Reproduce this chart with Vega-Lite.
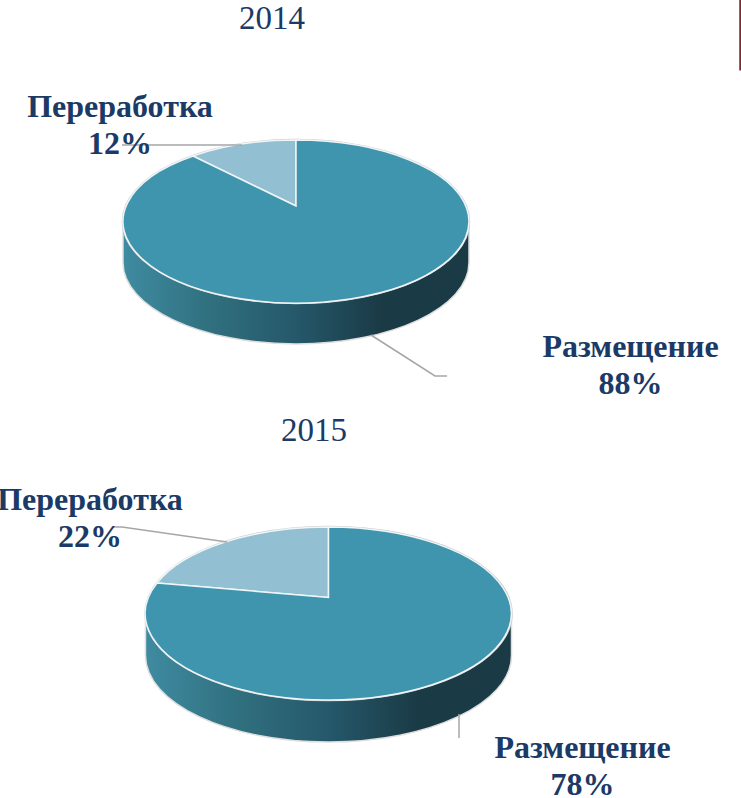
{"$schema":"https://vega.github.io/schema/vega-lite/v6.json","width":741,"height":798,"padding":0,"autosize":{"type":"none"},"background":"white","config":{"view":{"stroke":null}},
"data":{"values":[
{"year":"2014","category":"Переработка","share":12,"slice":"2014 Переработка","label":"Переработка\n12%"},
{"year":"2014","category":"Размещение","share":88,"slice":"2014 Размещение","label":"Размещение\n88%"},
{"year":"2015","category":"Переработка","share":22,"slice":"2015 Переработка","label":"Переработка\n22%"},
{"year":"2015","category":"Размещение","share":78,"slice":"2015 Размещение","label":"Размещение\n78%"}]},
"encoding":{"x":{"field":"year","type":"nominal","axis":null,"scale":{"type":"point","domain":["2014","2015"],"range":[296,328.5],"padding":0}},"y":{"field":"year","type":"nominal","axis":null,"scale":{"type":"point","domain":["2014","2015"],"range":[221.5,613.5],"padding":0}}},
"layer":[
{"transform":[{"filter":"datum.category==='Размещение'"}],"mark":{"type":"point","filled":true,"opacity":1,"size":4,"stroke":"#dedede","strokeWidth":1.5,"fill":{"gradient":"linear","x1":0,"y1":0,"x2":1,"y2":0,"stops":[{"offset":0,"color":"#3f8ba1"},{"offset":0.25,"color":"#30707f"},{"offset":0.5,"color":"#25586a"},{"offset":0.75,"color":"#1a3a45"},{"offset":1,"color":"#1a3a45"}]}},
"encoding":{"shape":{"field":"year","type":"nominal","legend":null,"scale":{"domain":["2014","2015"],"range":["M-173,0 A173,81.5 0 0 0 173,0 L173,41 A173,81.5 0 0 1 -173,41 Z","M-183,0 A183,86.5 0 0 0 183,0 L183,42 A183,86.5 0 0 1 -183,42 Z"]}}}},
{"transform":[{"filter":"datum.category==='Размещение'"}],"mark":{"type":"point","filled":false,"opacity":1,"size":4,"stroke":"#c8c8c8","strokeWidth":2.5},
"encoding":{"shape":{"field":"year","type":"nominal","legend":null,"scale":{"domain":["2014","2015"],"range":["M-173,0 A173,81.5 0 0 1 173,0 A173,81.5 0 0 1 -173,0 Z","M-183,0 A183,86.5 0 0 1 183,0 A183,86.5 0 0 1 -183,0 Z"]}}}},
{"mark":{"type":"point","filled":true,"opacity":1,"size":4,"stroke":"#f0f5f7","strokeWidth":1.5},
"encoding":{"fill":{"field":"category","type":"nominal","legend":null,"scale":{"domain":["Переработка","Размещение"],"range":["#92bfd1","#4095ae"]}},"shape":{"field":"slice","type":"nominal","legend":null,"scale":{"domain":["2014 Переработка","2014 Размещение","2015 Переработка","2015 Размещение"],"range":["M0,-15.5 L-103,-65.5 A173,81.5 0 0 1 0,-81.5 Z","M0,-15.5 L0,-81.5 A173,81.5 0 1 1 -103,-65.5 Z","M0,-16 L-171.5,-30.5 A183,86.5 0 0 1 0,-86.5 Z","M0,-16 L0,-86.5 A183,86.5 0 1 1 -171.5,-30.5 Z"]}}}},
{"mark":{"type":"point","filled":false,"opacity":1,"size":4,"stroke":"#a6a6a6","strokeWidth":1.5},
"encoding":{"shape":{"field":"slice","type":"nominal","legend":null,"scale":{"domain":["2014 Переработка","2014 Размещение","2015 Переработка","2015 Размещение"],"range":["M-174,-76.5 L-54,-76.5","M75,113.5 L139,154.5 L151,154.5","M-215.5,-86.5 L-206.5,-86.5 L-101.5,-71.5","M130.5,100.5 L130.5,124.5"]}}}},
{"transform":[{"filter":"datum.slice==='2014 Размещение'"}],"mark":{"type":"point","filled":false,"opacity":1,"size":4,"stroke":"#7a2a30","strokeWidth":2.5},"encoding":{"shape":{"value":"M444.5,-221.5 L444.5,-151"}}},
{"transform":[{"filter":"datum.slice==='2014 Переработка'"}],"mark":{"type":"text","font":"Liberation Serif","fontWeight":"bold","fontSize":32,"lineHeight":37,"lineBreak":"\n","align":"center","baseline":"alphabetic","color":"#1b3a66","dx":-176,"dy":-104.5},"encoding":{"text":{"field":"label"}}},
{"transform":[{"filter":"datum.slice==='2014 Размещение'"}],"mark":{"type":"text","font":"Liberation Serif","fontWeight":"bold","fontSize":32,"lineHeight":37,"lineBreak":"\n","align":"center","baseline":"alphabetic","color":"#1b3a66","dx":334.5,"dy":135.5},"encoding":{"text":{"field":"label"}}},
{"transform":[{"filter":"datum.slice==='2015 Переработка'"}],"mark":{"type":"text","font":"Liberation Serif","fontWeight":"bold","fontSize":32,"lineHeight":37,"lineBreak":"\n","align":"center","baseline":"alphabetic","color":"#1b3a66","dx":-238.5,"dy":-103.5},"encoding":{"text":{"field":"label"}}},
{"transform":[{"filter":"datum.slice==='2015 Размещение'"}],"mark":{"type":"text","font":"Liberation Serif","fontWeight":"bold","fontSize":32,"lineHeight":37,"lineBreak":"\n","align":"center","baseline":"alphabetic","color":"#1b3a66","dx":254,"dy":144},"encoding":{"text":{"field":"label"}}},
{"transform":[{"filter":"datum.slice==='2014 Размещение'"}],"mark":{"type":"text","font":"Liberation Serif","fontSize":33,"align":"center","baseline":"alphabetic","color":"#1b3a66","dx":-24,"dy":-192.5},"encoding":{"text":{"field":"year"}}},
{"transform":[{"filter":"datum.slice==='2015 Размещение'"}],"mark":{"type":"text","font":"Liberation Serif","fontSize":33,"align":"center","baseline":"alphabetic","color":"#1b3a66","dx":-14.5,"dy":-172.5},"encoding":{"text":{"field":"year"}}}
],
"resolve":{"scale":{"shape":"independent"}}}
